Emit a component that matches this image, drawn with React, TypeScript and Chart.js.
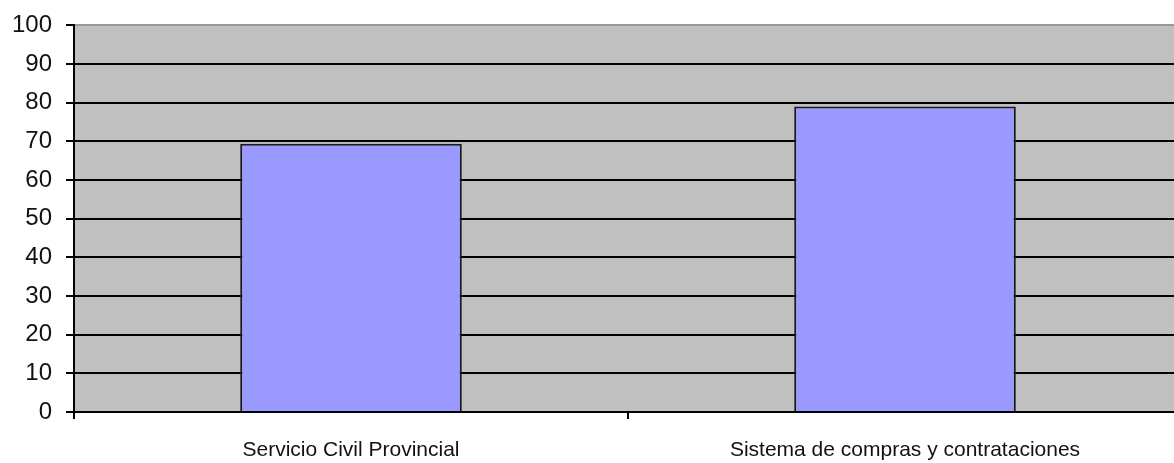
import React, { useEffect, useRef } from "react";
import { Chart, registerables } from "chart.js";

Chart.register(...registerables);

const categories: string[] = ["Servicio Civil Provincial", "Sistema de compras y contrataciones"];
const values: number[] = [69.4, 79];
const yTicks: number[] = [0, 10, 20, 30, 40, 50, 60, 70, 80, 90, 100];

const plotBg = {
  id: "plotBg",
  beforeDraw(chart: any) {
    const { ctx, chartArea } = chart;
    if (!chartArea) return;
    ctx.save();
    ctx.fillStyle = "#C0C0C0";
    ctx.fillRect(chartArea.left, chartArea.top, chartArea.right - chartArea.left, chartArea.bottom - chartArea.top);
    ctx.restore();
  },
};

export default function App() {
  const ref = useRef<HTMLCanvasElement | null>(null);
  useEffect(() => {
    if (!ref.current) return;
    const family = "'Liberation Sans', Arial, sans-serif";
    const chart = new Chart(ref.current, {
      type: "bar",
      data: {
        labels: categories,
        datasets: [
          {
            data: values,
            backgroundColor: "#9999FF",
            borderColor: "#1a1a1a",
            borderWidth: 2,
            categoryPercentage: 1,
            barPercentage: 0.4,
          },
        ],
      },
      plugins: [plotBg],
      options: {
        animation: false,
        responsive: false,
        maintainAspectRatio: false,
        layout: { padding: { top: 21, left: 0, right: 0, bottom: 0 } },
        plugins: { legend: { display: false }, tooltip: { enabled: false } },
        scales: {
          x: {
            grid: {
              offset: true,
              drawOnChartArea: false,
              drawTicks: true,
              tickLength: 7,
              color: "#000",
              lineWidth: 2,
            },
            border: { color: "#000", width: 2 },
            ticks: { color: "#111", font: { family, size: 21 }, padding: 19, maxRotation: 0 },
            afterFit(scale: any) {
              scale.height = 51;
            },
          },
          y: {
            min: 0,
            max: 100,
            afterBuildTicks(scale: any) {
              scale.ticks = yTicks.map((v) => ({ value: v }));
            },
            grid: {
              color: (c: any) => (c.tick && c.tick.value === 100 ? "#999" : "#000"),
              lineWidth: 2,
              drawTicks: true,
              tickLength: 8,
              tickColor: "#000",
            },
            border: { color: "#000", width: 2 },
            ticks: { color: "#111", font: { family, size: 24 }, padding: 14 },
            afterFit(scale: any) {
              scale.width = 74;
            },
          },
        },
      },
    });
    return () => chart.destroy();
  }, []);
  return (
    <div style={{ position: "fixed", left: 0, top: 0, width: 1174, height: 463, overflow: "hidden", background: "#fff" }}>
      <canvas
        ref={ref}
        width={1182}
        height={466}
        style={{ width: 1182, height: 466, display: "block", marginTop: -3 }}
      />
    </div>
  );
}
